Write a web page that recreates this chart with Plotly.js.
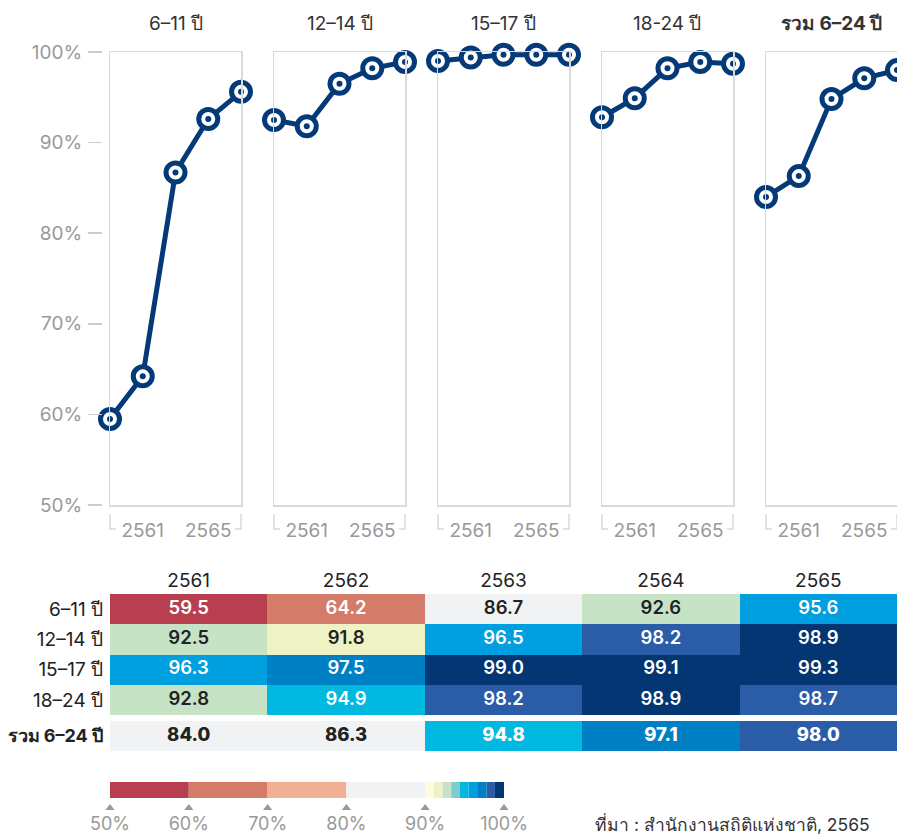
<!DOCTYPE html>
<html>
<head>
<meta charset="utf-8">
<script src="https://cdn.plot.ly/plotly-3.0.1.min.js"></script>
<style>html,body{margin:0;padding:0;background:#fff;}#chart{width:897px;height:836px;}</style>
</head>
<body>
<div id="chart"></div>
<script>
// ---------- DATA ----------
const years = ['2561', '2562', '2563', '2564', '2565'];
const yearNums = [2561, 2562, 2563, 2564, 2565];
const panelTitles = ['6–11 ปี', '12–14 ปี', '15–17 ปี', '18-24 ปี', 'รวม 6–24 ปี'];
const rowLabels = ['6–11 ปี', '12–14 ปี', '15–17 ปี', '18–24 ปี'];
const totalLabel = 'รวม 6–24 ปี';

// line panel values (read from the small multiples)
const line6_11 = [59.5, 64.2, 86.7, 92.6, 95.6];
const line12_14 = [92.5, 91.8, 96.5, 98.2, 98.9];
const line15_17 = [99.0, 99.4, 99.7, 99.7, 99.7];
const line18_24 = [92.8, 94.9, 98.2, 98.9, 98.7];
const lineTotal = [84.0, 86.3, 94.8, 97.1, 98.0];

// table values
const tab6_11 = [59.5, 64.2, 86.7, 92.6, 95.6];
const tab12_14 = [92.5, 91.8, 96.5, 98.2, 98.9];
const tab15_17 = [96.3, 97.5, 99.0, 99.1, 99.3];
const tab18_24 = [92.8, 94.9, 98.2, 98.9, 98.7];
const tabTotal = [84.0, 86.3, 94.8, 97.1, 98.0];

const yTickVals = [50, 60, 70, 80, 90, 100];
const yTickText = ['50%', '60%', '70%', '80%', '90%', '100%'];

// colour legend bins
const legendEdges = [50, 60, 70, 80, 90, 91.1, 92.2, 93.3, 94.4, 95.5, 96.7, 97.8, 98.85, 100];
const legendColors = ['#b83f50', '#d57b6a', '#f1b094', '#f1f2f4', '#fefcdc', '#eef2c4', '#c6e3c6',
                      '#7dcdd0', '#00b8e0', '#009fe0', '#0080c4', '#2a5ca8', '#033673'];
const legendTicks = [50, 60, 70, 80, 90, 100];
const legendTickText = ['50%', '60%', '70%', '80%', '90%', '100%'];

const sourceText = 'ที่มา : สำนักงานสถิติแห่งชาติ, 2565';

// ---------- LAYOUT HELPERS ----------
const W = 897, H = 836;
const fx = p => p / W;
const fy = p => 1 - p / H;
const NAVY = '#053a78';
const GRAY_TXT = '#999999';
const BOX = '#d9d9d9';
const FONT = 'Inter, "Noto Sans", "DejaVu Sans", sans-serif';
const FS = 19;

const lineSeries = [line6_11, line12_14, line15_17, line18_24, lineTotal];
const panelLeft = [110, 274, 438, 602, 766];
const panelW = 131;

const traces = [];
const layout = {
  width: W, height: H,
  margin: {l: 0, r: 0, t: 0, b: 0, pad: 0},
  paper_bgcolor: '#fff', plot_bgcolor: 'rgba(0,0,0,0)',
  showlegend: false,
  font: {family: FONT, size: FS, color: '#333'},
  annotations: [], shapes: [],
  barmode: 'overlay'
};

// ---------- small multiples ----------
lineSeries.forEach((vals, i) => {
  const s = i === 0 ? '' : String(i + 1);
  const L = panelLeft[i], R = L + panelW;
  layout['xaxis' + s] = {
    domain: [fx(L), Math.min(1, fx(R))], range: [2561, 2565], anchor: 'y' + s,
    showline: true, mirror: true, linecolor: BOX, linewidth: 1.5,
    showgrid: false, zeroline: false, ticks: '',
    tickvals: [2562, 2564], ticktext: [years[0], years[4]],
    tickfont: {size: FS, color: GRAY_TXT, family: FONT}, ticklabelstandoff: 8,
    fixedrange: true
  };
  layout['yaxis' + s] = {
    domain: [fy(505), fy(52)], range: [50, 100], anchor: 'x' + s,
    showline: true, mirror: true, linecolor: BOX, linewidth: 1.5,
    showgrid: false, zeroline: false, ticks: '', showticklabels: false, fixedrange: true
  };
  traces.push({
    type: 'scatter', mode: 'lines+markers', x: yearNums, y: vals,
    xaxis: 'x' + s, yaxis: 'y' + s, cliponaxis: false, hoverinfo: 'y',
    line: {color: NAVY, width: 5},
    marker: {symbol: 'circle', size: 19, color: '#fff', line: {color: NAVY, width: 5}}
  });
  // centre dots
  traces.push({
    type: 'scatter', mode: 'markers', x: yearNums, y: vals,
    xaxis: 'x' + s, yaxis: 'y' + s, cliponaxis: false, hoverinfo: 'skip',
    marker: {symbol: 'circle', size: 6, color: NAVY, line: {width: 0}}
  });
  layout.annotations.push({
    xref: 'paper', yref: 'paper', x: fx(L + panelW / 2), y: fy(23),
    xanchor: 'center', yanchor: 'middle', showarrow: false,
    text: i === 4 ? '<b>' + panelTitles[i] + '</b>' : panelTitles[i],
    font: {size: FS, color: '#333', family: FONT}
  });
  // bracket decorations under each panel
  const yTop = fy(514), yBot = fy(529);
  layout.shapes.push({
    type: 'path', xref: 'paper', yref: 'paper',
    path: `M${fx(L)},${yTop} L${fx(L)},${yBot} L${fx(L + 6)},${yBot}`,
    line: {color: BOX, width: 1.5}
  });
  layout.shapes.push({
    type: 'path', xref: 'paper', yref: 'paper',
    path: `M${fx(R - 6)},${yBot} L${fx(R)},${yBot} L${fx(R)},${yTop}`,
    line: {color: BOX, width: 1.5}
  });
});

// y tick axis (offset to the left of the first panel)
layout.yaxis6 = {
  overlaying: 'y', anchor: 'free', position: fx(102), side: 'left',
  range: [50, 100], tickvals: yTickVals, ticktext: yTickText,
  ticks: 'outside', ticklen: 14, tickwidth: 1.5, tickcolor: '#cccccc',
  showline: false, showgrid: false, zeroline: false,
  tickfont: {size: FS, color: GRAY_TXT, family: FONT}, ticklabelstandoff: 2, fixedrange: true
};
traces.push({type: 'scatter', mode: 'markers', x: [2561], y: [50], xaxis: 'x', yaxis: 'y6',
  marker: {opacity: 0}, hoverinfo: 'skip'});

// ---------- heat table ----------
const colorscale = [];
legendColors.forEach((c, i) => {
  colorscale.push([(legendEdges[i] - 50) / 50, c]);
  colorscale.push([(legendEdges[i + 1] - 50) / 50, c]);
});
const textColor = v => (v >= 70 && v < 94.4) ? '#222222' : '#ffffff';

layout.xaxis6 = {
  domain: [fx(110), 1], type: 'category', anchor: 'y7', side: 'top',
  showline: false, showgrid: false, zeroline: false, ticks: '',
  tickfont: {size: FS, color: '#222', family: FONT}, ticklabelstandoff: 2, fixedrange: true
};
layout.yaxis7 = {
  domain: [fy(715), fy(594)], type: 'category', anchor: 'x6', autorange: 'reversed',
  showline: false, showgrid: false, zeroline: false, ticks: '',
  tickfont: {size: FS, color: '#222', family: FONT}, ticklabelstandoff: 6, fixedrange: true
};
layout.yaxis8 = {
  domain: [fy(751), fy(721)], type: 'category', anchor: 'x6',
  showline: false, showgrid: false, zeroline: false, ticks: '',
  tickvals: [totalLabel], ticktext: ['<b>' + totalLabel + '</b>'],
  tickfont: {size: 18, color: '#222', family: FONT}, ticklabelstandoff: 6, fixedrange: true
};

const tabRows = [tab6_11, tab12_14, tab15_17, tab18_24];
traces.push({
  type: 'heatmap', x: years, y: rowLabels, z: tabRows, xaxis: 'x6', yaxis: 'y7',
  colorscale: colorscale, zmin: 50, zmax: 100, showscale: false, hoverinfo: 'z'
});
traces.push({
  type: 'heatmap', x: years, y: [totalLabel], z: [tabTotal], xaxis: 'x6', yaxis: 'y8',
  colorscale: colorscale, zmin: 50, zmax: 100, showscale: false, hoverinfo: 'z'
});
const tx = [], ty = [], tt = [], tc = [];
tabRows.forEach((row, r) => row.forEach((v, c) => {
  tx.push(years[c]); ty.push(rowLabels[r]); tt.push(v.toFixed(1)); tc.push(textColor(v));
}));
traces.push({
  type: 'scatter', mode: 'text', x: tx, y: ty, text: tt, xaxis: 'x6', yaxis: 'y7',
  textfont: {size: 18.5, color: tc, family: FONT, weight: 600}, hoverinfo: 'skip', cliponaxis: false
});
traces.push({
  type: 'scatter', mode: 'text', x: years, y: years.map(() => totalLabel),
  text: tabTotal.map(v => v.toFixed(1)), xaxis: 'x6', yaxis: 'y8',
  textfont: {size: 18.5, color: tabTotal.map(textColor), family: FONT, weight: 800},
  hoverinfo: 'skip', cliponaxis: false
});

// ---------- colour legend ----------
layout.xaxis7 = {
  domain: [fx(110), fx(504)], range: [50, 100], anchor: 'y9',
  tickvals: legendTicks, ticktext: legendTickText, ticks: '',
  showline: false, showgrid: false, zeroline: false,
  tickfont: {size: 18, color: GRAY_TXT, family: FONT}, ticklabelstandoff: 0, fixedrange: true
};
layout.yaxis9 = {
  domain: [fy(811), fy(782)], range: [-1.31, 0.5], anchor: 'x7', visible: false, fixedrange: true
};
traces.push({
  type: 'bar', orientation: 'h', xaxis: 'x7', yaxis: 'y9',
  y: legendColors.map(() => 0),
  base: legendEdges.slice(0, -1),
  x: legendEdges.slice(1).map((e, i) => e - legendEdges[i]),
  width: 1, marker: {color: legendColors, line: {width: 0}}, hoverinfo: 'skip'
});
traces.push({
  type: 'scatter', mode: 'markers', xaxis: 'x7', yaxis: 'y9',
  x: legendTicks, y: legendTicks.map(() => -1.12), cliponaxis: false,
  marker: {symbol: 'triangle-up', size: 8, color: GRAY_TXT}, hoverinfo: 'skip'
});

// source
layout.annotations.push({
  xref: 'paper', yref: 'paper', x: fx(593), y: fy(824), xanchor: 'left', yanchor: 'middle',
  showarrow: false, text: sourceText, font: {size: 17.5, color: '#333', family: FONT}
});

Plotly.newPlot('chart', traces, layout, {displayModeBar: false, staticPlot: true});
</script>
</body>
</html>
